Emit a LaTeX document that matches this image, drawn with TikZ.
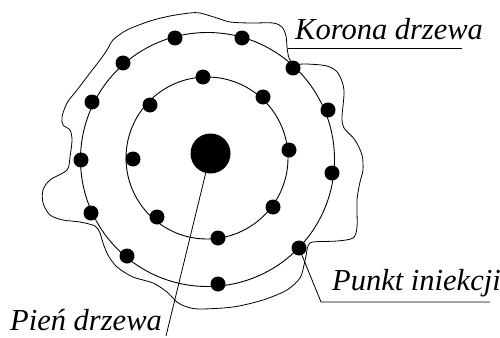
\documentclass[tikz,border=0pt]{standalone}
\usepackage{fontspec}
\setmainfont{Liberation Serif}
\usepackage{tikz}
\usetikzlibrary{positioning}

\begin{document}
\begin{tikzpicture}[
  x=1pt, y=-1pt,
  every node/.style={font=\fontsize{30.5}{33}\selectfont\itshape},
  okrag/.style={draw=black, line width=0.9pt},
  kontur/.style={draw=black, line width=0.8pt},
  kropka/.style={circle, fill=black, inner sep=0pt, minimum size=15pt},
  trzon/.style={circle, fill=black, inner sep=0pt, minimum size=40pt},
  opis/.style={anchor=base west, inner sep=0pt},
  linia/.style={draw=black, line width=0.8pt}
]
  \useasboundingbox (0,0) rectangle (500,337);

  % Okregi iniekcji
  \draw[okrag] (207,158) circle[radius=81];
  \draw[okrag] (207.5,159.5) circle[radius=127];

  % Zarys korony
  \draw[kontur] plot[smooth cycle, tension=0.5] coordinates {
    (127,30) (150,21) (170,16) (190,13) (200,13) (217,18) (230,22) (250,23)
    (273,23) (282,27) (286,36) (287,47) (289,58) (294,64) (307,64) (327,66)
    (338,73) (344,90) (342,117) (344,128) (355,140) (362,155) (363,170)
    (360,182) (357,200) (357,227) (353,238) (337,241) (313,242) (308,246)
    (306,256) (304,265) (300,278) (287,290) (263,300) (233,307) (200,309)
    (187,307) (177,302) (167,292) (153,283) (133,277) (117,267) (108,255)
    (103,243) (100,233) (95,226) (80,222) (63,220) (50,215) (43,203) (43,190)
    (50,180) (67,170) (70,157) (72,140) (70,130) (63,125) (62,117) (67,103)
    (77,90) (90,73) (100,60) (107,50) (113,40)};

  % Pien
  \node[trzon] (pien) at (210.5,153.5) {};

  % Punkty iniekcji - okrag wewnetrzny
  \foreach \x/\y [count=\i] in {203/77, 263/97, 289/150, 273/207,
                                 218/238, 157/217, 133/159, 150/105}
    \node[kropka] (w\i) at (\x,\y) {};

  % Punkty iniekcji - okrag zewnetrzny
  \foreach \x/\y [count=\i] in {175/38, 242/38, 293/68, 328/110, 332/173,
                                 299/248, 218/284, 127/256, 91/213, 81/160,
                                 92/102, 123/63}
    \node[kropka] (z\i) at (\x,\y) {};

  % Opisy
  \node[opis] (korona) at (295,40) {Korona drzewa};
  \node[opis] (punkt) at (332,290) {Punkt iniekcji};
  \node[opis] (pienopis) at (10,330) {Pień drzewa};

  % Linie odniesienia
  \coordinate (kor1) at (288,48);
  \coordinate (kor2) at (462,48);
  \coordinate (pk1) at (321,302);
  \coordinate (pk2) at (490,302);
  \coordinate (pn1) at (166,336);
  \draw[linia] (kor1) -- (kor2);
  \draw[linia] (z6) -- (pk1) -- (pk2);
  \draw[linia] (pien) -- (pn1);

\end{tikzpicture}
\end{document}
